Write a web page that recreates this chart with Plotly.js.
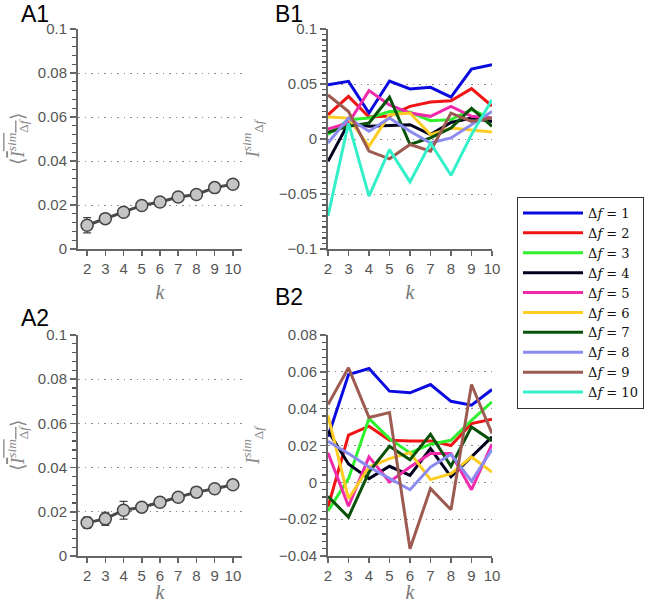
<!DOCTYPE html>
<html>
<head>
<meta charset="utf-8">
<script src="https://cdn.plot.ly/plotly-3.0.1.min.js"></script>
<style>html,body{margin:0;padding:0;background:#fff;}#chart{width:649px;height:603px;}</style>
</head>
<body>
<div id="chart"></div>
<script>
// ---- data ----
const k = [2, 3, 4, 5, 6, 7, 8, 9, 10];

const a1Mean = [0.0108, 0.0138, 0.0167, 0.0198, 0.0214, 0.0236, 0.0248, 0.0279, 0.0294];
const a1Err  = [0.0035, 0.0010, 0.0010, 0.0010, 0.0010, 0.0010, 0.0010, 0.0010, 0.0015];
const a2Mean = [0.0151, 0.0168, 0.0207, 0.0221, 0.0243, 0.0266, 0.0289, 0.0304, 0.0322];
const a2Err  = [0.0025, 0.0030, 0.0040, 0.0015, 0.0010, 0.0010, 0.0010, 0.0012, 0.0010];

const seriesNames = ["Δ<i>f</i> = 1", "Δ<i>f</i> = 2", "Δ<i>f</i> = 3", "Δ<i>f</i> = 4", "Δ<i>f</i> = 5",
                     "Δ<i>f</i> = 6", "Δ<i>f</i> = 7", "Δ<i>f</i> = 8", "Δ<i>f</i> = 9", "Δ<i>f</i> = 10"];
const seriesColors = ["#0a0ae0", "#f01414", "#2ef02e", "#00001e", "#f02aaa",
                      "#ffcc22", "#0a520a", "#8a8af0", "#9c5a50", "#33f0c8"];

const b1Df1  = [0.0494, 0.0524, 0.0236, 0.0527, 0.0455, 0.0470, 0.0380, 0.0636, 0.0676];
const b1Df2  = [0.0220, 0.0388, 0.0200, 0.0210, 0.0297, 0.0336, 0.0348, 0.0458, 0.0300];
const b1Df3  = [0.0040, 0.0176, 0.0190, 0.0250, 0.0245, 0.0167, 0.0176, 0.0267, 0.0180];
const b1Df4  = [-0.0203, 0.0145, 0.0115, 0.0120, 0.0130, 0.0040, 0.0150, 0.0190, 0.0160];
const b1Df5  = [0.0090, 0.0145, 0.0440, 0.0310, 0.0236, 0.0206, 0.0297, 0.0206, 0.0190];
const b1Df6  = [0.0200, 0.0190, -0.0067, 0.0220, 0.0236, 0.0040, 0.0100, 0.0085, 0.0064];
const b1Df7  = [0.0060, 0.0115, 0.0145, 0.0380, -0.0050, 0.0010, 0.0100, 0.0280, 0.0115];
const b1Df8  = [-0.0036, 0.0190, 0.0070, 0.0190, 0.0070, -0.0036, 0.0010, 0.0130, 0.0250];
const b1Df9  = [0.0400, 0.0250, -0.0110, -0.0180, -0.0050, -0.0110, 0.0236, 0.0160, 0.0190];
const b1Df10 = [-0.0700, 0.0145, -0.0520, -0.0097, -0.0390, -0.0036, -0.0330, 0.0040, 0.0357];

const b2Df1 = [0.0247, 0.0585, 0.0618, 0.0495, 0.0486, 0.0531, 0.0440, 0.0419, 0.0504];
const b2Df2 = [-0.0134, 0.0256, 0.0305, 0.0228, 0.0225, 0.0225, 0.0200, 0.0319, 0.0343];
const b2Df3 = [-0.0156, 0.0020, 0.0346, 0.0237, 0.0160, 0.0207, 0.0228, 0.0337, 0.0437];
const b2Df4 = [0.0280, 0.0100, 0.0020, 0.0087, 0.0038, 0.0183, 0.0030, 0.0141, 0.0247];
const b2Df5 = [0.0160, -0.0130, 0.0138, 0.0002, 0.0083, 0.0156, 0.0156, -0.0040, 0.0207];
const b2Df6 = [0.0364, -0.0089, 0.0083, 0.0129, 0.0161, 0.0015, 0.0047, 0.0138, 0.0056];
const b2Df7 = [-0.0076, -0.0189, 0.0056, 0.0196, 0.0123, 0.0261, 0.0087, 0.0301, 0.0225];
const b2Df8 = [0.0223, 0.0156, 0.0083, 0.0020, -0.0040, 0.0083, 0.0152, 0.0007, 0.0178];
const b2Df9 = [0.0422, 0.0622, 0.0352, 0.0379, -0.0361, -0.0034, -0.0149, 0.0531, 0.0265];

const b1All = [b1Df1, b1Df2, b1Df3, b1Df4, b1Df5, b1Df6, b1Df7, b1Df8, b1Df9, b1Df10];
const b2All = [b2Df1, b2Df2, b2Df3, b2Df4, b2Df5, b2Df6, b2Df7, b2Df8, b2Df9];

// ---- traces ----
const traces = [];
function meanTrace(y, err, xa, ya) {
  return {
    x: k, y: y, xaxis: xa, yaxis: ya, type: 'scatter', mode: 'lines+markers',
    showlegend: false,
    line: {color: '#4a4a4a', width: 3},
    marker: {size: 12, color: '#c4c4c4', line: {color: '#444', width: 1.5}},
    error_y: {type: 'data', array: err, visible: true, color: '#444', thickness: 1.2, width: 4}
  };
}
traces.push(meanTrace(a1Mean, a1Err, 'x', 'y'));
traces.push(meanTrace(a2Mean, a2Err, 'x3', 'y3'));

b1All.forEach((s, i) => traces.push({
  x: k, y: s, xaxis: 'x2', yaxis: 'y2', type: 'scatter', mode: 'lines',
  name: seriesNames[i], legendgroup: 'g' + i,
  line: {color: seriesColors[i], width: 3}
}));
b2All.forEach((s, i) => traces.push({
  x: k, y: s, xaxis: 'x4', yaxis: 'y4', type: 'scatter', mode: 'lines',
  name: seriesNames[i], legendgroup: 'g' + i, showlegend: false,
  line: {color: seriesColors[i], width: 3}
}));

// ---- layout ----
const W = 649, H = 603;
const gray = '#555';
const axisFont = {family: 'Liberation Sans, Arial, sans-serif', size: 15, color: gray};
function xax(domain, range, anchor) {
  return {
    domain: domain, range: range, anchor: anchor,
    tickmode: 'array', tickvals: k, ticktext: k.map(String),
    ticks: 'outside', ticklen: 5, tickwidth: 1.5, tickcolor: '#666',
    showline: true, linecolor: '#666', linewidth: 2,
    showgrid: false, zeroline: false, tickfont: axisFont,
    title: {text: '<i>k</i>', font: {family: 'Liberation Serif, serif', size: 20, color: '#777'}, standoff: 9}
  };
}
function yax(domain, range, dtick, minorDtick, anchor, titleText, standoff) {
  return {
    domain: domain, range: range, anchor: anchor,
    tickmode: 'linear', tick0: 0, dtick: dtick,
    ticks: 'outside', ticklen: 6, tickwidth: 1.5, tickcolor: '#666',
    minor: {tick0: 0, dtick: minorDtick, ticks: 'outside', ticklen: 4, tickwidth: 1.2, tickcolor: '#555'},
    showline: true, linecolor: '#666', linewidth: 2,
    showgrid: true, gridcolor: '#8a8a8a', griddash: '1.5px,5px', gridwidth: 1,
    zeroline: false, tickfont: axisFont,
    title: {text: titleText, font: {family: 'Liberation Serif, serif', size: 19, color: '#888'}, standoff: standoff}
  };
}
const aTitle = '⟨<span style="text-decoration:overline"><i>I</i><sup><i>sim</i></sup><sub>Δ<i>f</i></sub></span>⟩';
const bTitle = '<i>I</i><sup><i>sim</i></sup><sub>Δ<i>f</i></sub>';

const xA = [78 / W, 242 / W], xB = [328 / W, 492 / W];
const yTop = [1 - 249 / H, 1 - 29 / H], yBot = [1 - 556 / H, 1 - 335 / H];

function panelLabel(text, px, py) {
  return {text: text, xref: 'paper', yref: 'paper', x: px / W, y: 1 - py / H,
          xanchor: 'left', yanchor: 'middle', showarrow: false,
          font: {family: 'Liberation Sans, Arial, sans-serif', size: 23, color: '#000'}};
}

const layout = {
  width: W, height: H,
  margin: {l: 0, r: 0, t: 0, b: 0},
  paper_bgcolor: '#fff', plot_bgcolor: '#fff',
  showlegend: true,
  legend: {
    x: 517 / W, y: 1 - 197 / H, xanchor: 'left', yanchor: 'top',
    bgcolor: '#fff', bordercolor: '#333', borderwidth: 1,
    font: {family: 'DejaVu Serif, serif', size: 13, color: '#111'},
    tracegroupgap: 0, itemwidth: 60
  },
  xaxis: xax(xA, [1.5, 10.5], 'y'),
  yaxis: yax(yTop, [0, 0.1], 0.02, 0.004, 'x', aTitle, 8),
  xaxis2: xax(xB, [2, 10], 'y2'),
  yaxis2: yax(yTop, [-0.1, 0.1], 0.05, 0.005, 'x2', bTitle, 14),
  xaxis3: xax(xA, [1.5, 10.5], 'y3'),
  yaxis3: yax(yBot, [0, 0.1], 0.02, 0.004, 'x3', aTitle, 8),
  xaxis4: xax(xB, [2, 10], 'y4'),
  yaxis4: yax(yBot, [-0.04, 0.08], 0.02, 0.004, 'x4', bTitle, 14),
  annotations: [
    panelLabel('A1', 19, 14),
    panelLabel('B1', 273, 14),
    panelLabel('A2', 19, 318),
    panelLabel('B2', 273, 297)
  ]
};

Plotly.newPlot('chart', traces, layout, {displayModeBar: false, staticPlot: true});
</script>
</body>
</html>
